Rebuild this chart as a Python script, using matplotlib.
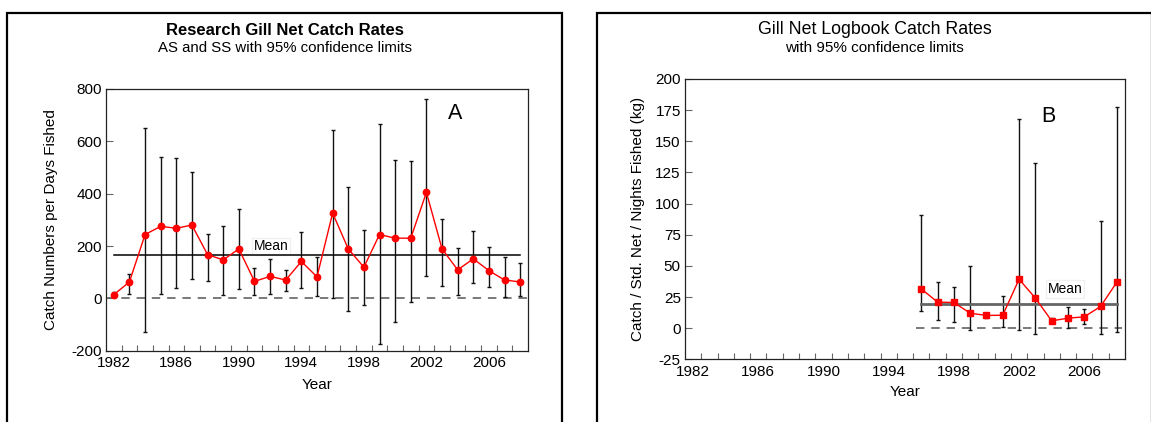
import matplotlib
matplotlib.use('Agg')
import matplotlib.pyplot as plt
from matplotlib.patches import Rectangle

plt.rcParams['font.family'] = ['Liberation Sans', 'DejaVu Sans']
plt.rcParams['axes.unicode_minus'] = False

# research gill net series (panel A)
years_a = list(range(1982, 2009))
rate_a = [14, 63, 244, 275, 268, 280, 167, 147, 189, 65, 84, 70, 141, 82,
          326, 189, 119, 244, 230, 230, 405, 189, 109, 151, 106, 70, 63]
upper_a = [24, 93, 650, 541, 537, 481, 247, 277, 342, 116, 150, 110, 252, 157,
           644, 426, 262, 666, 530, 525, 763, 304, 194, 259, 196, 158, 135]
lower_a = [6, 17, -128, 17, 40, 74, 68, 14, 37, 12, 17, 28, 38, 10,
           3, -47, -24, -175, -90, -15, 87, 49, 13, 59, 43, 4, 9]
mean_a = 166

# logbook series (panel B)
years_b = list(range(1996, 2009))
rate_b = [31.5, 20.9, 20.6, 12.0, 10.2, 10.4, 39.3, 24.1, 5.9, 8.0, 9.1, 17.4, 36.9]
upper_b = [91.2, 36.9, 33.4, 49.7, 12.5, 25.9, 167.6, 132.6, 7.8, 17.1, 15.0, 85.8, 177.3]
lower_b = [13.9, 6.4, 4.8, -1.3, 8.0, 1.1, -1.1, -4.8, 4.0, 0.0, 3.7, -4.5, -2.7]
mean_b = 19.0

year_labels = [1982, 1986, 1990, 1994, 1998, 2002, 2006]

W, H = 1151, 422
fig = plt.figure(figsize=(W / 100, H / 100), dpi=100)


def px_axes(left, top, right, bottom):
    return fig.add_axes([left / W, (H - bottom) / H, (right - left) / W, (bottom - top) / H])


def style_axes(ax, yticks):
    ax.set_xlim(1981.5, 2008.5)
    ax.set_xticks(year_labels)
    ax.set_xticks([y + 0.5 for y in range(1982, 2008)], minor=True)
    ax.tick_params(axis='x', which='major', length=0, pad=4, labelsize=11)
    ax.tick_params(axis='x', which='minor', direction='in', length=4, color='#666666', width=0.8)
    ax.set_yticks(yticks)
    ax.tick_params(axis='y', direction='in', length=5, color='#666666', width=0.8,
                   pad=3, labelsize=11)
    for s in ax.spines.values():
        s.set_linewidth(0.9)
        s.set_color('#222222')


def panel(ax, years, rate, lower, upper, marker, ms):
    err = [[r - lo for r, lo in zip(rate, lower)], [hi - r for r, hi in zip(rate, upper)]]
    ax.errorbar(years, rate, yerr=err, fmt='none', ecolor='#111111', elinewidth=1.0,
                capsize=1.5, capthick=1.0, zorder=2)
    ax.plot(years, rate, color='red', lw=1.0, marker=marker, ms=ms,
            markerfacecolor='red', markeredgecolor='red', zorder=4)


# panel A
axA = px_axes(106, 89, 528, 350.7)
axA.axhline(0, color='#555555', lw=1.1, ls=(0, (5.5, 4.5)), zorder=1)
axA.plot([1982, 2008], [mean_a, mean_a], color='black', lw=1.1, zorder=3.5)
panel(axA, years_a, rate_a, lower_a, upper_a, 'o', 4.6)
axA.text(1990.95, 199, 'Mean', fontsize=10, ha='left', va='center', zorder=3,
         bbox=dict(facecolor='white', edgecolor='#f0f0f0', pad=1.2))
axA.text(2003.85, 707, 'A', fontsize=15.5, ha='center', va='center')
axA.set_ylim(-200, 800)
style_axes(axA, [-200, 0, 200, 400, 600, 800])
axA.set_xlabel('Year', fontsize=11)
axA.xaxis.set_label_coords(0.5, -27 / 261.7)
axA.set_ylabel('Catch Numbers per Days Fished', fontsize=11)
axA.yaxis.set_label_coords(-48 / 422, 0.5)

# panel B
axB = px_axes(685, 79, 1125, 359.3)
axB.plot([1995.7, 2008.3], [0.5, 0.5], color='#555555', lw=1.1, ls=(0, (5.5, 4.5)), zorder=1)
axB.plot([1996, 2008], [mean_b, mean_b], color='#666666', lw=2.0, zorder=3.5)
panel(axB, years_b, rate_b, lower_b, upper_b, 's', 5)
axB.text(2003.75, 31.5, 'Mean', fontsize=10, ha='left', va='center', zorder=3,
         bbox=dict(facecolor='white', edgecolor='#f0f0f0', pad=1.2))
axB.text(2003.8, 169.6, 'B', fontsize=15.5, ha='center', va='center')
axB.set_ylim(-25, 200)
style_axes(axB, [-25, 0, 25, 50, 75, 100, 125, 150, 175, 200])
axB.set_xlabel('Year', fontsize=11)
axB.xaxis.set_label_coords(0.5, -26 / 280.3)
axB.set_ylabel('Catch / Std. Net / Nights Fished (kg)', fontsize=11)
axB.yaxis.set_label_coords(-40 / 440, 0.5)

# outer frames and headings
for x0 in (7, 597):
    fig.patches.append(Rectangle((x0 / W, -0.1), 555 / W, (H - 13) / H + 0.1,
                                 transform=fig.transFigure, fill=False,
                                 edgecolor='black', lw=1.6))

fig.text(284.5 / W, 1 - 30.5 / H, 'Research Gill Net Catch Rates', fontsize=12,
         fontweight='bold', ha='center', va='center')
fig.text(284.5 / W, 1 - 48 / H, 'AS and SS with 95% confidence limits', fontsize=10.8,
         ha='center', va='center')
fig.text(874.5 / W, 1 - 29.5 / H, 'Gill Net Logbook Catch Rates', fontsize=12.8,
         ha='center', va='center')
fig.text(874.5 / W, 1 - 48 / H, 'with 95% confidence limits', fontsize=11,
         ha='center', va='center')

fig.savefig('out.png', dpi=100)
